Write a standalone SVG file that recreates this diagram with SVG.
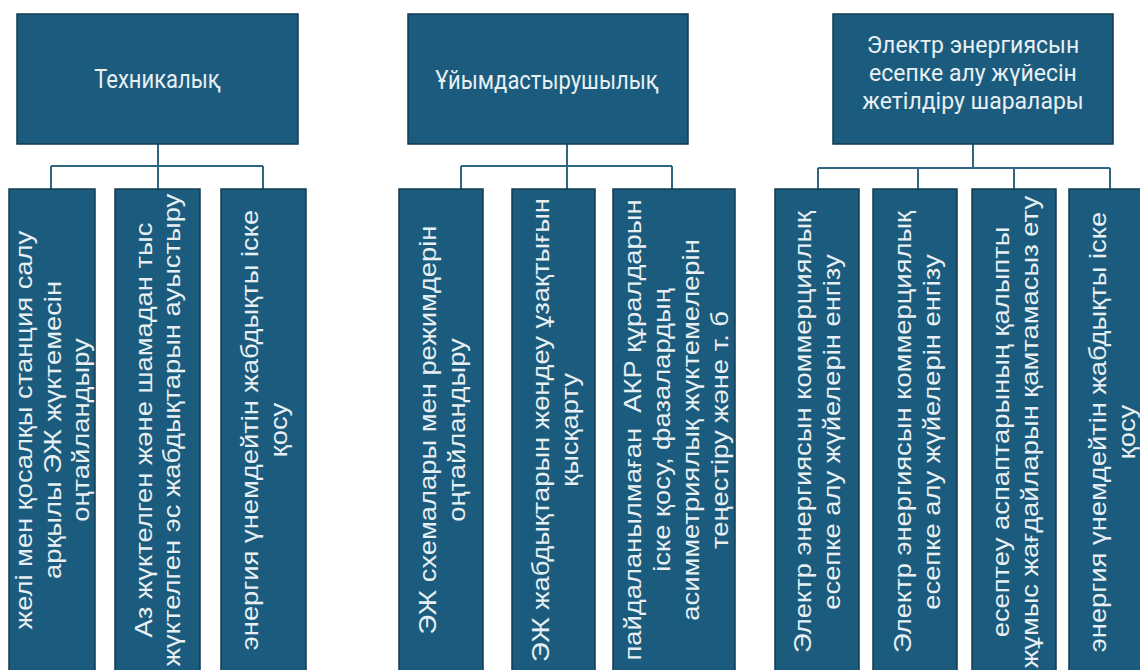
<svg xmlns="http://www.w3.org/2000/svg" width="1140" height="670" viewBox="0 0 1140 670">
<style>
.box{fill:#1b5c7e;stroke:#123a50;stroke-width:1.5}
.top{font-family:Roboto,"Liberation Sans",sans-serif;font-size:22px;fill:#e8eff3;text-anchor:middle}
.top3{font-family:Roboto,"Liberation Sans",sans-serif;font-size:23px;fill:#e8eff3;text-anchor:middle}
.v{font-family:"Liberation Sans",Arial,sans-serif;font-size:23px;fill:#e8eff3;text-anchor:middle}
.conn{fill:none;stroke:#2f6684;stroke-width:2}
</style>
<rect width="1140" height="670" fill="#ffffff"/>
<g id="connectors">
<path class="conn" d="M158 144V166M51 166H263M51 166V189M158 166V189M263 166V189"/>
<path class="conn" d="M567 144V166M461 166H672M461 166V189M567 166V189M672 166V189"/>
<path class="conn" d="M973 144V168M818 168H1110M818 168V189M918 168V189M1014 168V189M1110 168V189"/>
</g>
<g id="n-tech">
<rect class="box" x="17" y="14" width="281" height="130"/>
<text class="top" transform="translate(157.5,88) scale(1,1.2)">Техникалық</text>
</g>
<g id="n-org">
<rect class="box" x="408" y="14" width="280" height="130"/>
<text class="top" transform="translate(547,89) scale(1,1.2)">Ұйымдастырушылық</text>
</g>
<g id="n-meter">
<rect class="box" x="833" y="14" width="280" height="130"/>
<text class="top3" x="973" y="53"><tspan x="973" y="53">Электр энергиясын</tspan><tspan x="973" y="81">есепке алу жүйесін</tspan><tspan x="973" y="109">жетілдіру шаралары</tspan></text>
</g>
<g id="t1">
<rect class="box" x="9" y="189" width="86" height="490"/>
<text class="v" transform="translate(52,430) rotate(-90) scale(1.19,1)"><tspan x="0" y="-20.5">желі мен қосалқы станция салу</tspan><tspan x="0" y="8.5">арқылы ЭЖ жүктемесін</tspan><tspan x="0" y="37.5">оңтайландыру</tspan></text>
</g>
<g id="t2">
<rect class="box" x="115" y="189" width="85" height="490"/>
<text class="v" transform="translate(157.5,430) rotate(-90) scale(1.19,1)"><tspan x="0" y="-6">Аз жүктелген және шамадан тыс</tspan><tspan x="0" y="23">жүктелген эс жабдықтарын ауыстыру</tspan></text>
</g>
<g id="t3">
<rect class="box" x="221" y="189" width="85" height="490"/>
<text class="v" transform="translate(264,430) rotate(-90) scale(1.19,1)"><tspan x="0" y="-6">энергия үнемдейтін жабдықты іске</tspan><tspan x="0" y="23">қосу</tspan></text>
</g>
<g id="o1">
<rect class="box" x="399" y="189" width="84" height="490"/>
<text class="v" transform="translate(442,430) rotate(-90) scale(1.19,1)"><tspan x="0" y="-6">ЭЖ схемалары мен режимдерін</tspan><tspan x="0" y="23">оңтайландыру</tspan></text>
</g>
<g id="o2">
<rect class="box" x="512" y="189" width="83" height="490"/>
<text class="v" transform="translate(555,430) rotate(-90) scale(1.19,1)"><tspan x="0" y="-6">ЭЖ жабдықтарын жөндеу ұзақтығын</tspan><tspan x="0" y="23">қысқарту</tspan></text>
</g>
<g id="o3">
<rect class="box" x="613" y="189" width="122" height="490"/>
<text class="v" transform="translate(676,430) rotate(-90) scale(1.19,1)"><tspan x="0" y="-35" xml:space="preserve">пайдаланылмаған  АКР құралдарын</tspan><tspan x="0" y="-6">іске қосу, фазалардың</tspan><tspan x="0" y="23">асимметриялық жүктемелерін</tspan><tspan x="0" y="52">теңестіру және т. б</tspan></text>
</g>
<g id="m1">
<rect class="box" x="775" y="189" width="84" height="490"/>
<text class="v" transform="translate(817,432) rotate(-90) scale(1.19,1)"><tspan x="0" y="-6">Электр энергиясын коммерциялық</tspan><tspan x="0" y="23">есепке алу жүйелерін енгізу</tspan></text>
</g>
<g id="m2">
<rect class="box" x="873" y="189" width="84" height="490"/>
<text class="v" transform="translate(917,432) rotate(-90) scale(1.19,1)"><tspan x="0" y="-6">Электр энергиясын коммерциялық</tspan><tspan x="0" y="23">есепке алу жүйелерін енгізу</tspan></text>
</g>
<g id="m3">
<rect class="box" x="972" y="189" width="84" height="490"/>
<text class="v" transform="translate(1015,432) rotate(-90) scale(1.19,1)"><tspan x="0" y="-6">есептеу аспаптарының қалыпты</tspan><tspan x="0" y="23">жұмыс жағдайларын қамтамасыз ету</tspan></text>
</g>
<g id="m4">
<rect class="box" x="1069" y="189" width="84" height="490"/>
<text class="v" transform="translate(1112,432) rotate(-90) scale(1.19,1)"><tspan x="0" y="-6">энергия үнемдейтін жабдықты іске</tspan><tspan x="0" y="23">қосу</tspan></text>
</g>
</svg>
